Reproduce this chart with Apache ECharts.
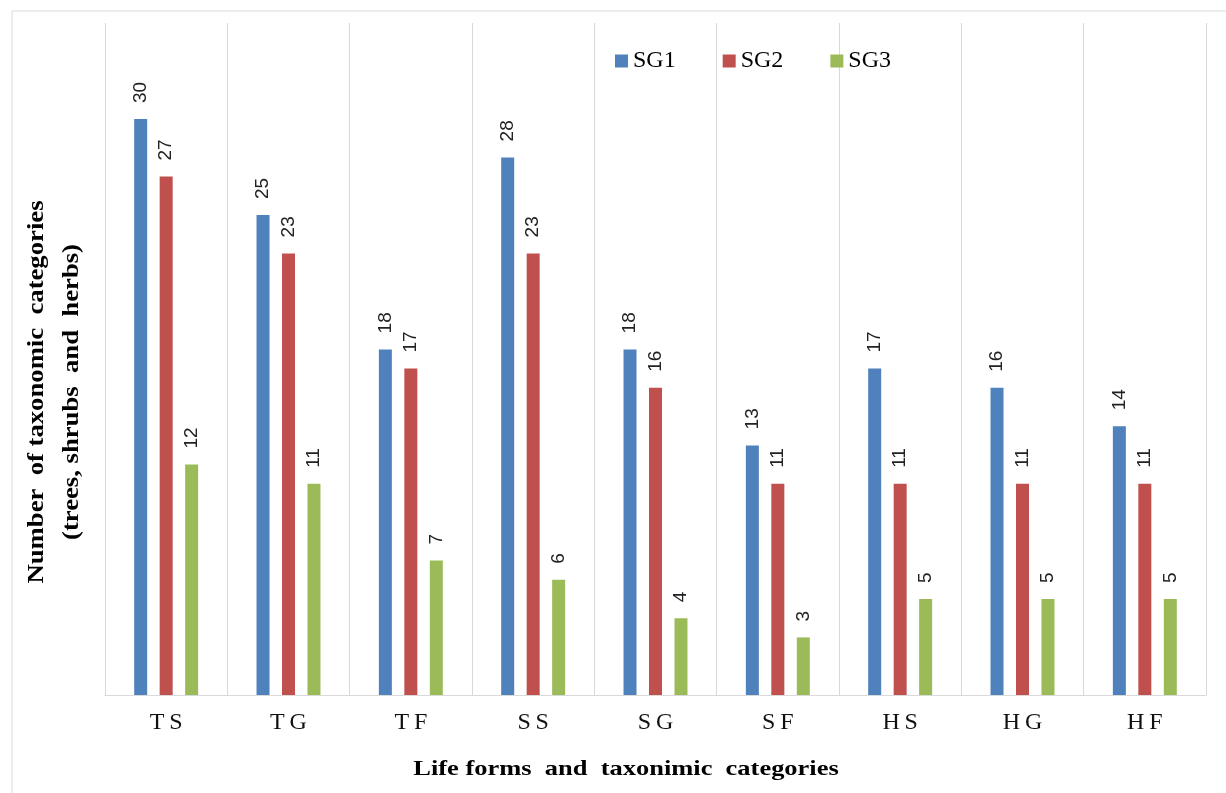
<!DOCTYPE html>
<html>
<head>
<meta charset="utf-8">
<script src="https://cdn.jsdelivr.net/npm/echarts@6/dist/echarts.min.js"></script>
<style>
  html, body { margin: 0; padding: 0; background: #fff; }
  #chart { width: 1226px; height: 793px; }
</style>
</head>
<body>
<div id="chart"></div>
<script>
// Life-form groups and taxonomic category counts per site group
const categories = ['TS', 'TG', 'TF', 'SS', 'SG', 'SF', 'HS', 'HG', 'HF'];
const sg1 = [30, 25, 18, 28, 18, 13, 17, 16, 14];
const sg2 = [27, 23, 17, 23, 16, 11, 11, 11, 11];
const sg3 = [12, 11, 7, 6, 4, 3, 5, 5, 5];
const seriesNames = ['SG1', 'SG2', 'SG3'];
const seriesColors = ['#4F81BD', '#C0504D', '#9BBB59'];

const serif = '"Liberation Serif", "DejaVu Serif", serif';

const chart = echarts.init(document.getElementById('chart'));

function barSeries(name, data, color) {
  return {
    name: name,
    type: 'bar',
    data: data,
    barWidth: 13,
    barGap: '96%',
    itemStyle: { color: color },
    label: {
      show: true,
      position: 'top',
      rotate: 90,
      align: 'left',
      verticalAlign: 'middle',
      distance: 16,
      fontFamily: '"Liberation Sans", Arial, sans-serif',
      fontSize: 19,
      color: '#222'
    }
  };
}

chart.setOption({
  backgroundColor: '#fff',
  animation: false,
  graphic: [
    {
      type: 'rect',
      shape: { x: 12, y: 11, width: 1300, height: 900 },
      style: { fill: 'none', stroke: '#d9d9d9', lineWidth: 1 },
      silent: true,
      z: -1
    },
    {
      type: 'text',
      x: 55, y: 392,
      rotation: Math.PI / 2,
      scaleX: 1.16,
      style: {
        text: 'Number  of taxonomic  categories\n(trees, shrubs  and  herbs)',
        fontFamily: serif,
        fontWeight: 'bold',
        fontSize: 23,
        lineHeight: 35,
        fill: '#000',
        align: 'center',
        verticalAlign: 'middle'
      }
    },
    {
      type: 'text',
      x: 626, y: 770,
      scaleX: 1.26,
      style: {
        text: 'Life forms  and  taxonimic  categories',
        fontFamily: serif,
        fontWeight: 'bold',
        fontSize: 21,
        fill: '#000',
        align: 'center',
        verticalAlign: 'middle'
      }
    }
  ],
  legend: {
    data: seriesNames,
    left: 615,
    top: 49,
    padding: 0,
    itemWidth: 13,
    itemHeight: 13,
    itemGap: 47,
    icon: 'rect',
    textStyle: { fontFamily: serif, fontSize: 24, color: '#000' }
  },
  grid: { left: 105, right: 20, top: 23, bottom: 98 },
  xAxis: {
    type: 'category',
    data: categories,
    boundaryGap: true,
    axisLine: { show: true, lineStyle: { color: '#d9d9d9', width: 1 } },
    axisTick: { show: false },
    axisLabel: {
      margin: 16,
      fontFamily: serif,
      fontSize: 24,
      color: '#111',
      // letter-spaced category codes
      formatter: function (v) { return v.split('').join('\u2009'); }
    },
    splitLine: { show: true, lineStyle: { color: '#d9d9d9', width: 1 } }
  },
  yAxis: {
    type: 'value',
    min: 0,
    max: 35,
    interval: 5,
    axisLine: { show: false },
    axisTick: { show: false },
    axisLabel: { show: false },
    splitLine: { show: false }
  },
  series: [
    barSeries(seriesNames[0], sg1, seriesColors[0]),
    barSeries(seriesNames[1], sg2, seriesColors[1]),
    barSeries(seriesNames[2], sg3, seriesColors[2])
  ]
});
</script>
</body>
</html>
